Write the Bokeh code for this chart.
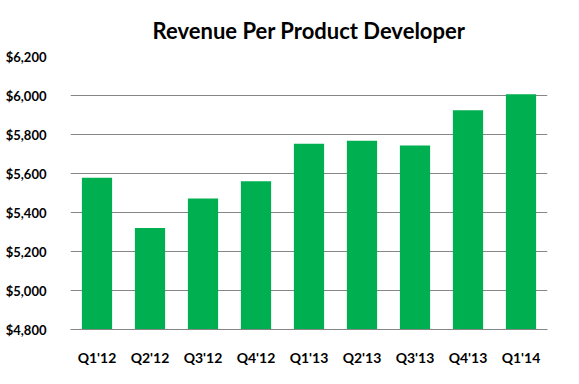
from bokeh.plotting import figure
from bokeh.models import Range1d, FixedTicker, NumeralTickFormatter, ColumnDataSource
from bokeh.embed import file_html
from bokeh.resources import INLINE

quarters = ["Q1'12", "Q2'12", "Q3'12", "Q4'12", "Q1'13", "Q2'13", "Q3'13", "Q4'13", "Q1'14"]
revenue = [5578, 5320, 5472, 5560, 5752, 5768, 5744, 5925, 6006]
y_ticks = [4800, 5000, 5200, 5400, 5600, 5800, 6000, 6200]

FONT = "Lato"
GRAY = "#868686"
W, H = 563, 368

src = ColumnDataSource(dict(q=quarters, v=revenue))

p = figure(x_range=quarters, y_range=Range1d(4800, 6200), width=W, height=H,
           output_backend="svg", toolbar_location=None,
           min_border_left=70, min_border_right=16, min_border_top=56, min_border_bottom=39)

p.vbar(x="q", top="v", bottom=4800, width=0.57, source=src, color="#00B050", line_color=None)

p.title.text = "Revenue Per Product Developer"
p.title.align = "center"
p.title.text_font = FONT
p.title.text_font_size = "22px"
p.title.text_font_style = "bold"
p.title.text_color = "#000000"
p.title.standoff = 26

p.outline_line_color = None
p.xgrid.grid_line_color = None
p.ygrid.grid_line_color = GRAY
p.ygrid.grid_line_width = 1

p.yaxis.ticker = FixedTicker(ticks=y_ticks)
p.yaxis.formatter = NumeralTickFormatter(format="$0,0")
p.yaxis.axis_line_color = None
p.yaxis.major_tick_line_color = None
p.yaxis.minor_tick_line_color = None
p.yaxis.major_label_standoff = 18

p.xaxis.axis_line_color = GRAY
p.xaxis.major_tick_line_color = None
p.xaxis.minor_tick_line_color = None
p.xaxis.major_label_standoff = 13

for ax in (p.xaxis, p.yaxis):
    ax.major_label_text_font = FONT
    ax.major_label_text_font_style = "bold"
    ax.major_label_text_color = "#000000"
p.yaxis.major_label_text_font_size = "13px"
p.xaxis.major_label_text_font_size = "14px"

open("out.html", "w").write(file_html(p, INLINE))
